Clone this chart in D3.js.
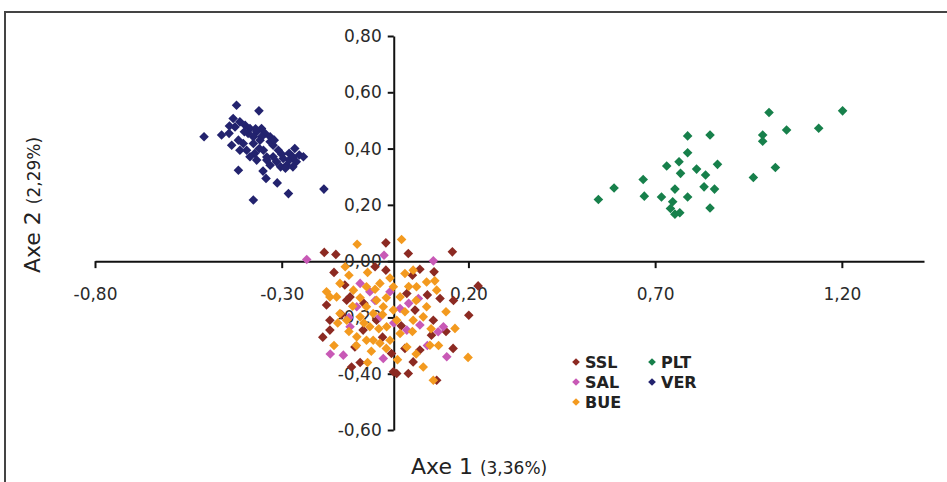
<!DOCTYPE html>
<html>
<head>
<meta charset="utf-8">
<script src="https://cdn.jsdelivr.net/npm/d3@7"></script>
<style>
  body { margin: 0; background: #fff; }
  svg { display: block; }
</style>
</head>
<body>
<div id="chart"></div>
<script>
// Series (Axe 1, Axe 2)
const sslPoints = [
  [-0.186, 0.031], [-0.155, 0.024], [-0.021, 0.065], [0.157, 0.033], [0.039, 0.027],
  [0.070, -0.029], [0.108, -0.038], [0.226, -0.088], [0.201, -0.192], [-0.021, -0.032],
  [-0.131, -0.085], [-0.117, -0.127], [-0.180, -0.156], [-0.171, -0.210], [-0.171, -0.245],
  [-0.126, -0.139], [-0.104, -0.305], [-0.113, -0.376], [-0.006, -0.328], [-0.001, -0.393],
  [0.039, -0.399], [0.052, -0.358], [0.070, -0.316], [0.159, -0.310], [0.124, -0.133],
  [0.106, -0.210], [0.057, -0.174], [0.035, -0.115], [-0.046, -0.210], [-0.082, -0.245],
  [0.101, -0.263], [0.008, -0.399], [0.115, -0.423],
  [-0.160, -0.040], [-0.140, -0.190], [-0.080, -0.150], [-0.030, -0.270], [0.020, -0.230],
  [0.090, -0.120], [0.140, -0.250], [-0.090, -0.360], [0.050, -0.050], [-0.050, -0.020],
  [0.160, -0.140], [-0.190, -0.270], [0.030, -0.310]
];
const salPoints = [
  [-0.233, 0.006], [-0.026, 0.021], [0.106, 0.001], [-0.090, -0.079], [-0.064, -0.109],
  [-0.010, -0.109], [0.066, -0.133], [-0.037, -0.198], [0.017, -0.168], [0.070, -0.227],
  [0.133, -0.233], [0.119, -0.251], [-0.135, -0.334], [-0.028, -0.346], [0.142, -0.340],
  [-0.117, -0.233], [0.035, -0.245], [-0.099, -0.162],
  [-0.050, -0.140], [0.000, -0.220], [-0.120, -0.200], [0.090, -0.300], [-0.170, -0.330],
  [0.040, -0.150]
];
const buePoints = [
  [0.021, 0.077], [-0.098, 0.060], [0.030, -0.044], [0.088, -0.074], [-0.144, -0.079],
  [-0.180, -0.109], [-0.108, -0.103], [-0.073, -0.091], [-0.037, -0.079], [-0.001, -0.091],
  [0.017, -0.127], [-0.046, -0.139], [-0.073, -0.162], [-0.028, -0.162], [-0.001, -0.174],
  [0.088, -0.162], [0.115, -0.103], [-0.144, -0.186], [-0.126, -0.210], [-0.090, -0.198],
  [-0.064, -0.233], [-0.019, -0.233], [0.017, -0.257], [0.052, -0.210], [0.079, -0.198],
  [0.164, -0.239], [0.199, -0.342], [0.106, -0.423], [0.079, -0.376], [-0.037, -0.292],
  [-0.073, -0.281], [-0.099, -0.269], [-0.010, -0.281], [0.035, -0.305], [-0.171, -0.127],
  [-0.055, -0.186], [0.097, -0.299], [-0.153, -0.127], [-0.055, -0.281], [0.008, -0.210],
  [0.052, -0.032], [0.061, -0.091],
  [-0.120, -0.050], [-0.090, -0.130], [-0.050, -0.100], [-0.020, -0.130], [0.040, -0.090],
  [0.060, -0.140], [-0.110, -0.160], [-0.080, -0.220], [-0.030, -0.190], [0.030, -0.180],
  [0.050, -0.250], [-0.120, -0.250], [-0.100, -0.300], [-0.060, -0.320], [-0.020, -0.310],
  [0.010, -0.350], [0.060, -0.330], [-0.150, -0.220], [-0.130, -0.020], [-0.070, -0.040],
  [0.100, -0.240], [0.140, -0.180], [-0.040, -0.240], [-0.010, -0.060], [0.120, -0.300],
  [-0.160, -0.300], [-0.070, -0.360], [0.110, -0.070]
];
const pltPoints = [
  [0.548, 0.219], [0.590, 0.260], [0.668, 0.290], [0.671, 0.231], [0.717, 0.228],
  [0.731, 0.338], [0.764, 0.353], [0.768, 0.312], [0.787, 0.385], [0.787, 0.445],
  [0.847, 0.448], [0.811, 0.327], [0.835, 0.306], [0.867, 0.344], [0.753, 0.256],
  [0.787, 0.228], [0.831, 0.264], [0.859, 0.256], [0.747, 0.211], [0.741, 0.187],
  [0.753, 0.167], [0.766, 0.172], [0.847, 0.189], [0.963, 0.297], [1.022, 0.333],
  [0.988, 0.448], [0.988, 0.426], [1.005, 0.528], [1.052, 0.466], [1.138, 0.472],
  [1.202, 0.534]
];
const verPoints = [
  [-0.421, 0.554], [-0.361, 0.534], [-0.508, 0.442], [-0.461, 0.448], [-0.416, 0.323],
  [-0.342, 0.294], [-0.312, 0.278], [-0.282, 0.240], [-0.376, 0.217], [-0.187, 0.256],
  [-0.430, 0.507], [-0.412, 0.495], [-0.398, 0.483], [-0.385, 0.471], [-0.425, 0.477],
  [-0.390, 0.454], [-0.367, 0.460], [-0.354, 0.471], [-0.345, 0.454], [-0.331, 0.442],
  [-0.358, 0.430], [-0.376, 0.418], [-0.403, 0.418], [-0.434, 0.412], [-0.394, 0.394],
  [-0.372, 0.383], [-0.349, 0.394], [-0.323, 0.412], [-0.309, 0.394], [-0.323, 0.371],
  [-0.340, 0.359], [-0.367, 0.359], [-0.385, 0.371], [-0.296, 0.365], [-0.280, 0.383],
  [-0.265, 0.400], [-0.253, 0.377], [-0.261, 0.353], [-0.287, 0.341], [-0.303, 0.335],
  [-0.331, 0.341], [-0.354, 0.442], [-0.331, 0.424], [-0.376, 0.442], [-0.412, 0.394],
  [-0.314, 0.353], [-0.280, 0.359], [-0.242, 0.371], [-0.270, 0.335], [-0.441, 0.454],
  [-0.416, 0.430],
  [-0.400, 0.460], [-0.360, 0.400], [-0.340, 0.370], [-0.300, 0.380], [-0.370, 0.470],
  [-0.320, 0.430], [-0.350, 0.320], [-0.290, 0.330], [-0.440, 0.480], [-0.270, 0.370]
];

const seriesNames = ["SSL", "SAL", "BUE", "PLT", "VER"];
const seriesColors = ["#8c2a22", "#c859b6", "#f39a1f", "#17804b", "#23236e"];
const xTicks = [-0.80, -0.30, 0.20, 0.70, 1.20];
const yTicks = [-0.60, -0.40, -0.20, 0.00, 0.20, 0.40, 0.60, 0.80];

const series = [sslPoints, salPoints, buePoints, pltPoints, verPoints].map((pts, i) => ({
  name: seriesNames[i], color: seriesColors[i], points: pts
}));

const width = 947, height = 482;
const font = "'DejaVu Sans', sans-serif";
const fmt = d => d.toFixed(2).replace(".", ",");

const svg = d3.select("#chart").append("svg")
  .attr("width", width)
  .attr("height", height);

svg.append("rect").attr("width", width).attr("height", height).attr("fill", "#fff");

// cadre
svg.append("rect")
  .attr("x", 5).attr("y", 12)
  .attr("width", 980).attr("height", 520)
  .attr("fill", "none")
  .attr("stroke", "#444")
  .attr("stroke-width", 2);

const x = d3.scaleLinear().domain([-0.8, 1.42]).range([95, 924]);
const y = d3.scaleLinear().domain([-0.6, 0.8]).range([430, 36]);

// axe horizontal
const xAxis = svg.append("g")
  .attr("transform", `translate(0,${y(0)})`)
  .call(d3.axisBottom(x).tickValues(xTicks).tickFormat(fmt).tickSize(7).tickSizeOuter(0).tickPadding(20));

// axe vertical
const yAxis = svg.append("g")
  .attr("transform", `translate(${x(0)},0)`)
  .call(d3.axisLeft(y).tickValues(yTicks).tickFormat(fmt).tickSize(6).tickSizeOuter(0).tickPadding(6));

[xAxis, yAxis].forEach(g => {
  g.select(".domain").attr("stroke", "#111").attr("stroke-width", 2);
  g.selectAll(".tick line").attr("stroke", "#111").attr("stroke-width", 2);
  g.selectAll(".tick text")
    .style("font-family", font)
    .style("font-size", "17px")
    .attr("fill", "#2a2a2a");
});

// points
const diamond = d3.symbol().type(d3.symbolSquare).size(46);
series.forEach(s => {
  svg.append("g").selectAll("path")
    .data(s.points)
    .join("path")
    .attr("d", diamond)
    .attr("transform", d => `translate(${x(d[0])},${y(d[1])}) rotate(45)`)
    .attr("fill", s.color);
});

// titres des axes
const xTitle = svg.append("text")
  .attr("x", 411).attr("y", 474)
  .style("font-family", font)
  .attr("fill", "#222");
xTitle.append("tspan").style("font-size", "22px").text("Axe 1 ");
xTitle.append("tspan").style("font-size", "17px").text("(3,36%)");

const yTitle = svg.append("text")
  .attr("transform", "translate(40,205) rotate(-90)")
  .attr("text-anchor", "middle")
  .style("font-family", font)
  .attr("fill", "#222");
yTitle.append("tspan").style("font-size", "22px").text("Axe 2 ");
yTitle.append("tspan").style("font-size", "17px").text("(2,29%)");

// légende
const legendPos = [[576, 362], [576, 382], [576, 402], [652, 362], [652, 382]];
const legend = svg.append("g");
series.forEach((s, i) => {
  const [lx, ly] = legendPos[i];
  legend.append("path")
    .attr("d", d3.symbol().type(d3.symbolSquare).size(30))
    .attr("transform", `translate(${lx},${ly}) rotate(45)`)
    .attr("fill", s.color);
  legend.append("text")
    .attr("x", lx + 9).attr("y", ly)
    .attr("dy", "0.36em")
    .style("font-family", font)
    .style("font-size", "16px")
    .style("font-weight", "bold")
    .attr("fill", "#222")
    .text(s.name);
});
</script>
</body>
</html>
